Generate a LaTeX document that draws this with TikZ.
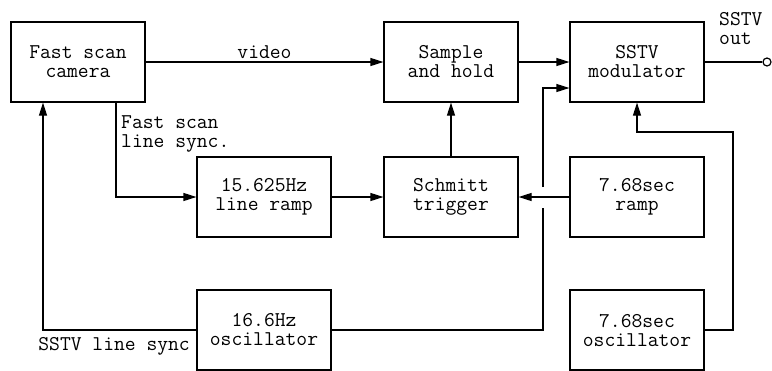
\documentclass[tikz,border=0pt]{standalone}
\usetikzlibrary{arrows.meta}
\tikzset{
  blk/.style={draw, line width=1.2pt, minimum width=134pt, minimum height=80pt, align=center, inner sep=0pt},
  lbl/.style={align=left, inner sep=0pt},
  sig/.style={line width=1.2pt, -{Triangle[length=13pt,width=8pt]}},
  wire/.style={line width=1.2pt}
}
\begin{document}
\begin{tikzpicture}[x=1pt,y=-1pt,font=\ttfamily\fontsize{21}{19}\selectfont]
\useasboundingbox (0,0) rectangle (772,370);
\node[blk] (cam) at (78,62) {Fast scan\\camera};
\node[blk] (sh) at (451,62) {Sample\\and hold};
\node[blk] (mod) at (637,62) {SSTV\\modulator};
\node[blk] (ramp) at (264,197) {15.625Hz\\line ramp};
\node[blk] (sch) at (451,197) {Schmitt\\trigger};
\node[blk] (sramp) at (637,197) {7.68sec\\ramp};
\node[blk] (osc) at (264,330) {16.6Hz\\oscillator};
\node[blk] (sosc) at (637,330) {7.68sec\\oscillator};
\node[circle, draw, line width=1.2pt, minimum size=8pt, inner sep=0pt] (out) at (767,62) {};
\node[lbl, anchor=north west] (outl) at (719,12) {SSTV\\out};
\node[lbl, anchor=north west] (fsl) at (121,115) {Fast scan\\line sync.};
\node[lbl, anchor=east] (ssl) at (190,346) {SSTV line sync};
\coordinate (xa) at (543,208);
\coordinate (xb) at (543,187);
\coordinate (ret) at (733,132);
\draw[sig] (cam.east) -- node[above=3pt, inner sep=0pt] (vid) {video} (sh.west);
\draw[sig] (sh.east) -- (mod.west);
\draw[wire] (mod.east) -- (out.west);
\draw[sig] ([xshift=38pt]cam.south) |- (ramp.west);
\draw[sig] (ramp.east) -- (sch.west);
\draw[sig] (sch.north) -- (sh.south);
\draw[sig] (sramp.west) -- (sch.east);
\draw[wire] (osc.east) -| (xa);
\draw[sig] (xb) |- ([yshift=-26pt]mod.west);
\draw[sig] (osc.west) -| ([xshift=-35pt]cam.south);
\draw[sig] (sosc.east) -| (ret) -| (mod.south);
\end{tikzpicture}
\end{document}
